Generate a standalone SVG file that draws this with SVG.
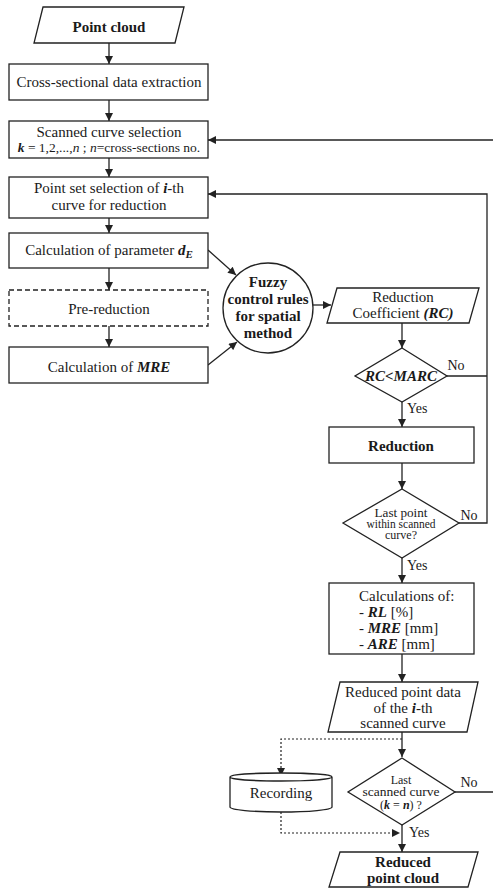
<svg xmlns="http://www.w3.org/2000/svg" width="493" height="888" viewBox="0 0 493 888">
<style>
.n{fill:#fff;stroke:#222;stroke-width:1.3}
.d{stroke-dasharray:5,3}
text{font-family:'Liberation Serif','Times New Roman','DejaVu Serif',serif;font-size:15px;fill:#1a1a1a;text-anchor:middle}
.l{text-anchor:start}
.b{font-weight:bold}
.bi{font-weight:bold;font-style:italic}
.i{font-style:italic}
.c{fill:none;stroke:#222;stroke-width:1.3}
.dot{fill:none;stroke:#222;stroke-width:1.2;stroke-dasharray:2,2}
</style>
<defs>
<marker id="a" viewBox="0 0 10 10" refX="10" refY="5" markerWidth="9" markerHeight="8" markerUnits="userSpaceOnUse" orient="auto">
<path d="M0,0 L10,5 L0,10 z" fill="#222"/>
</marker>
</defs>
<g id="connectors">
<path class="c" d="M109,43 V64" marker-end="url(#a)"/>
<path class="c" d="M109,100 V121" marker-end="url(#a)"/>
<path class="c" d="M109,158 V177" marker-end="url(#a)"/>
<path class="c" d="M109,218 V233" marker-end="url(#a)"/>
<path class="c" d="M109,268 V290" marker-end="url(#a)"/>
<path class="c" d="M109,326 V347" marker-end="url(#a)"/>
<path class="c" d="M208,250 L236,275" marker-end="url(#a)"/>
<path class="c" d="M208,365 L237,342" marker-end="url(#a)"/>
<path class="c" d="M313,305 H331" marker-end="url(#a)"/>
<path class="c" d="M402,323 V348" marker-end="url(#a)"/>
<path class="c" d="M402,402 V427" marker-end="url(#a)"/>
<path class="c" d="M402,463 V489" marker-end="url(#a)"/>
<path class="c" d="M402,558 V583" marker-end="url(#a)"/>
<path class="c" d="M402,654 V682" marker-end="url(#a)"/>
<path class="c" d="M402,732 V757" marker-end="url(#a)"/>
<path class="c" d="M402,825 V852" marker-end="url(#a)"/>
<path class="c" d="M447,376 H487"/>
<path class="c" d="M459,523 H487 V194 H208" marker-end="url(#a)"/>
<path class="c" d="M493,140 H208" marker-end="url(#a)"/>
<path class="c" d="M455,792 H493"/>
<path class="dot" d="M402,739 H281 V776" marker-end="url(#a)"/>
<path class="dot" d="M281,812 V833 H400" marker-end="url(#a)"/>
<text x="456" y="370" style="font-size:14px">No</text>
<text x="469" y="520" style="font-size:14px">No</text>
<text x="469" y="787" style="font-size:14px">No</text>
<text class="l" x="407" y="413" style="font-size:14px">Yes</text>
<text class="l" x="407" y="570" style="font-size:14px">Yes</text>
<text class="l" x="409" y="837" style="font-size:14px">Yes</text>
</g>
<g id="point-cloud">
<polygon class="n" points="43,7 184,7 175,43 34,43"/>
<text class="b" x="109" y="32">Point cloud</text>
</g>
<g id="cross-sectional">
<rect class="n" x="9" y="64" width="199" height="36"/>
<text x="109" y="87">Cross-sectional data extraction</text>
</g>
<g id="scanned-curve">
<rect class="n" x="9" y="121" width="199" height="37"/>
<text x="109" y="137">Scanned curve selection</text>
<text x="109" y="152" style="font-size:13.5px"><tspan class="bi">k</tspan> = 1,2,...,<tspan class="i">n</tspan> ; <tspan class="i">n</tspan>=cross-sections no.</text>
</g>
<g id="point-set">
<rect class="n" x="9" y="177" width="199" height="41"/>
<text x="109" y="193">Point set selection of <tspan class="bi">i</tspan>-th</text>
<text x="109" y="210">curve for reduction</text>
</g>
<g id="calc-de">
<rect class="n" x="9" y="233" width="199" height="35"/>
<text x="109" y="255">Calculation of parameter <tspan class="bi">d</tspan><tspan class="bi" dy="3" style="font-size:11px">E</tspan></text>
</g>
<g id="pre-reduction">
<rect class="n d" x="9" y="290" width="199" height="36"/>
<text x="109" y="314">Pre-reduction</text>
</g>
<g id="calc-mre">
<rect class="n" x="9" y="347" width="199" height="36"/>
<text x="109" y="372">Calculation of <tspan class="bi">MRE</tspan></text>
</g>
<g id="fuzzy">
<circle class="n" cx="268" cy="308" r="45"/>
<text class="b" x="268" y="287">Fuzzy</text>
<text class="b" x="268" y="304">control rules</text>
<text class="b" x="268" y="321">for spatial</text>
<text class="b" x="268" y="338">method</text>
</g>
<g id="reduction-coefficient">
<polygon class="n" points="337,288 479,288 469,323 327,323"/>
<text x="403" y="302">Reduction</text>
<text x="403" y="318">Coefficient <tspan class="bi">(RC)</tspan></text>
</g>
<g id="rc-marc">
<polygon class="n" points="402,348 447,376 402,402 355,376"/>
<text class="bi" x="401" y="381">RC&lt;MARC</text>
</g>
<g id="reduction">
<rect class="n" x="329" y="427" width="145" height="36"/>
<text class="b" x="401" y="451">Reduction</text>
</g>
<g id="last-point">
<polygon class="n" points="402,489 459,523 402,558 343,523"/>
<text x="401" y="516.5" style="font-size:11.5px" textLength="53" lengthAdjust="spacingAndGlyphs">Last point</text>
<text x="401" y="527.5" style="font-size:11.5px" textLength="69" lengthAdjust="spacingAndGlyphs">within scanned</text>
<text x="401" y="538.5" style="font-size:11.5px" textLength="32" lengthAdjust="spacingAndGlyphs">curve?</text>
</g>
<g id="calculations">
<rect class="n" x="329" y="583" width="145" height="71"/>
<text class="l" x="359" y="601">Calculations of:</text>
<text class="l" x="359" y="617">- <tspan class="bi">RL</tspan> [%]</text>
<text class="l" x="359" y="633">- <tspan class="bi">MRE</tspan> [mm]</text>
<text class="l" x="359" y="649">- <tspan class="bi">ARE</tspan> [mm]</text>
</g>
<g id="reduced-data">
<polygon class="n" points="340,682 478,682 467,732 328,732"/>
<text x="403" y="697">Reduced point data</text>
<text x="403" y="713">of the <tspan class="bi">i</tspan>-th</text>
<text x="403" y="728">scanned curve</text>
</g>
<g id="recording">
<path class="n" d="M230,777 V807 A51,5 0 0 0 332,807 V777 A51,4 0 0 0 230,777 A51,4 0 0 0 332,777"/>
<text x="281" y="798">Recording</text>
</g>
<g id="last-scanned">
<polygon class="n" points="402,758 455,792 402,825 348,792"/>
<text x="401" y="783.5" style="font-size:12px">Last</text>
<text x="401" y="796" style="font-size:12px" textLength="77" lengthAdjust="spacingAndGlyphs">scanned curve</text>
<text x="401" y="808.5" style="font-size:12px">(<tspan class="bi">k</tspan> = <tspan class="bi">n</tspan>) ?</text>
</g>
<g id="reduced-cloud">
<polygon class="n" points="340,852 478,852 468,887 329,887"/>
<text class="b" x="403" y="867">Reduced</text>
<text class="b" x="403" y="883">point cloud</text>
</g>
</svg>
